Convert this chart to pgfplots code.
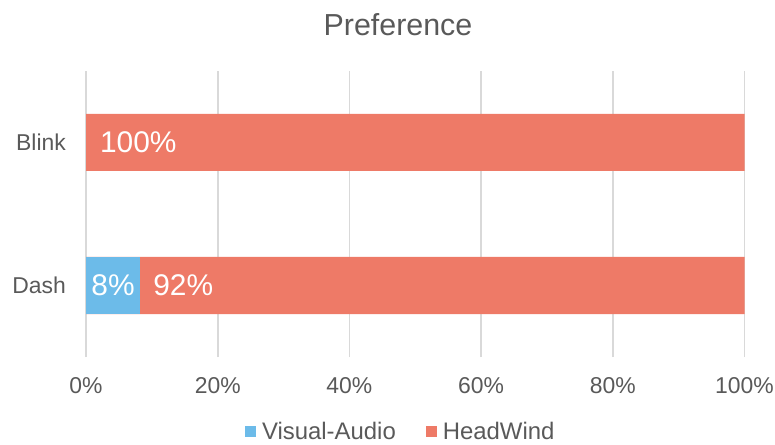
\documentclass[border=0pt]{standalone}
\usepackage{pgfplots}
\pgfplotsset{compat=1.18}
\usepackage{fontspec}
\setmainfont{Liberation Sans}
\definecolor{hwred}{HTML}{EE7A67}
\definecolor{vablue}{HTML}{6CBBE9}
\definecolor{txtgray}{HTML}{595959}
\definecolor{gridgray}{HTML}{D9D9D9}
\begin{document}
\begin{tikzpicture}
\path[use as bounding box] (0,0) rectangle (775bp,445bp);
\node[text=txtgray, font=\fontsize{30.5}{34}\selectfont, inner sep=0pt] at (398bp,420bp) {Preference};
\begin{axis}[
  at={(86bp,88bp)}, anchor=south west,
  scale only axis, width=658.5bp, height=286bp,
  xmin=0, xmax=100, ymin=-0.5, ymax=1.5,
  xtick={0,20,40,60,80,100},
  xticklabel={\pgfmathprintnumber{\tick}\%},
  /pgf/number format/assume math mode=true,
  ytick={0,1}, yticklabels={Dash,Blink},
  axis line style={draw=none},
  major tick length=0pt,
  xmajorgrids,
  grid style={color=gridgray, line width=1.6bp},
  tick label style={text=txtgray, font=\fontsize{23}{27}\selectfont, inner sep=0pt},
  xticklabel style={yshift=-20bp},
  yticklabel style={xshift=-20bp},
  bar width=57bp,
  legend columns=2,
  legend style={at={(0.478,-0.262)}, anchor=center, draw=none, fill=none,
    font=\fontsize{24}{28}\selectfont, text=txtgray,
    /tikz/every odd column/.append style={column sep=4bp},
    /tikz/every even column/.append style={column sep=28bp},
    inner sep=0pt},
  legend image code/.code={\fill[#1] (0bp,-5.5bp) rectangle (11bp,5.5bp);},
]
\addplot[xbar, bar shift=0pt, fill=hwred, draw=none, forget plot] coordinates {(100,1) (100,0)};
\addplot[xbar, bar shift=0pt, fill=vablue, draw=none, forget plot] coordinates {(8.2,0)};
\addplot[only marks, mark=none, forget plot,
  nodes near coords, point meta=explicit symbolic,
  nodes near coords style={anchor=west, text=white, inner sep=0pt,
    font=\fontsize{30}{34}\selectfont}]
  coordinates {(2.1,1) [100\%] (10.2,0) [92\%] (0.8,0) [8\%]};
\addlegendimage{fill=vablue, draw=none}
\addlegendentry{Visual-Audio}
\addlegendimage{fill=hwred, draw=none}
\addlegendentry{HeadWind}
\end{axis}
\end{tikzpicture}
\end{document}
